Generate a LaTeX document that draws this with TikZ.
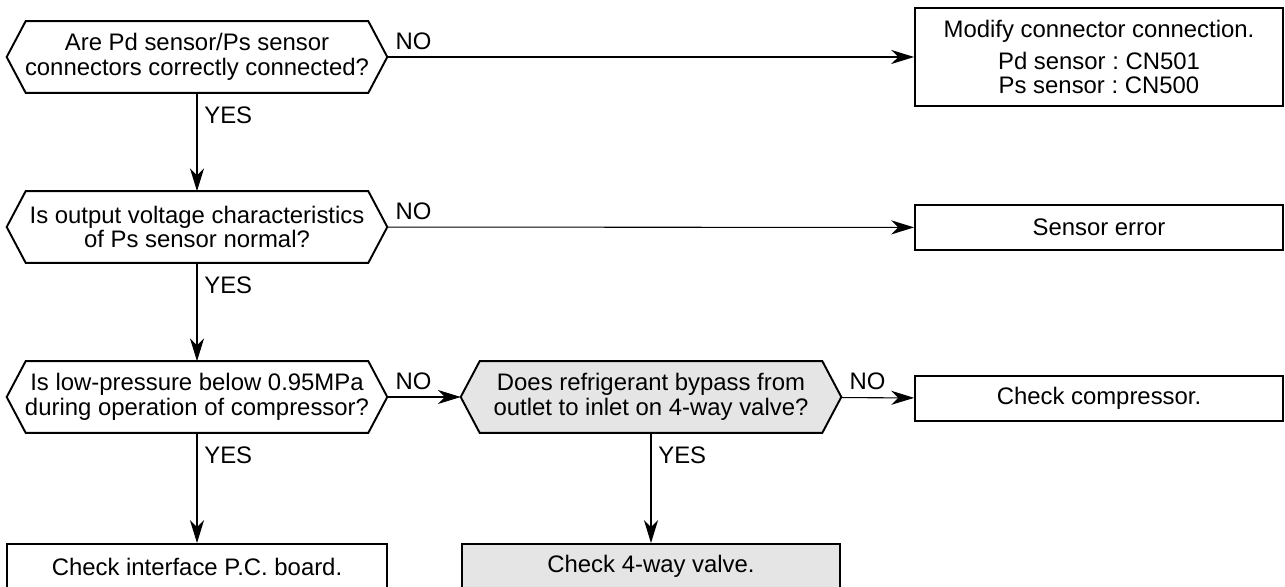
\documentclass[tikz,border=0pt]{standalone}
\usepackage{fontspec}
\setmainfont{Liberation Sans}
\usetikzlibrary{arrows.meta, backgrounds}
\frenchspacing

\begin{document}
\begin{tikzpicture}[
  x=0.02cm, y=-0.02cm,
  font=\fontsize{13.6}{14}\selectfont,
  question/.style={minimum width=7.6cm, minimum height=1.42cm, inner sep=0pt, align=center},
  result/.style={draw, line width=1.1pt, minimum width=7.36cm, minimum height=0.9cm, inner sep=0pt, align=center},
  hexline/.style={line width=1.1pt, line join=miter},
  flow/.style={line width=0.6pt, -{Stealth[length=13pt, width=8pt, inset=4pt]}},
  answer/.style={anchor=west, inner sep=0pt},
]
  \useasboundingbox (0,0) rectangle (1285,587);

  % --- Questions ---
  \node[question] (conn)   at (197,57)  {Are Pd sensor/Ps sensor\\connectors correctly connected?};
  \node[question] (volt)   at (197,227) {Is output voltage characteristics\\of Ps sensor normal?};
  \node[question] (lowp)   at (197,397) {Is low-pressure below 0.95MPa\\during operation of compressor?};
  \node[question] (bypass) at (651,397) {Does refrigerant bypass from\\outlet to inlet on 4-way valve?};

  % hexagon outlines behind the texts
  \begin{scope}[on background layer]
    \foreach \q/\c in {conn/white, volt/white, lowp/white, bypass/black!10}
      \draw[hexline, fill=\c] (\q.west) -- ([xshift=0.38cm]\q.north west)
        -- ([xshift=-0.38cm]\q.north east) -- (\q.east)
        -- ([xshift=-0.38cm]\q.south east) -- ([xshift=0.38cm]\q.south west) -- cycle;
  \end{scope}

  % --- Results ---
  \node[result, minimum height=1.96cm] (modify) at (1099,57)
    {Modify connector connection.\\[4pt]Pd sensor : CN501\\Ps sensor : CN500};
  \node[result] (senserr)    at (1099,227.5) {Sensor error};
  \node[result] (checkcomp)  at (1099,398.5) {Check compressor.};
  \node[result, minimum width=7.6cm] (checkpcb) at (197,566.5) {Check interface P.C. board.};
  \node[result, minimum width=7.56cm, fill=black!10] (checkvalve) at (651,566.5) {Check 4-way valve.};

  % --- Connectors ---
  \draw[flow] (conn) -- (modify);
  \draw[flow] (conn) -- (volt);
  \draw[flow] (volt) -- (senserr);
  \draw[flow] (volt) -- (lowp);
  \draw[flow] (lowp) -- (bypass);
  \draw[flow] (lowp) -- (checkpcb);
  \draw[flow] (bypass) -- (checkcomp);
  \draw[flow] (bypass) -- (checkvalve);

  % --- Answer labels ---
  \foreach \q in {conn, volt, lowp, bypass} {
    \node[answer] (\q-no)  at ([xshift=0.16cm, yshift=0.31cm]\q.east) {NO};
    \node[answer] (\q-yes) at ([xshift=0.14cm, yshift=-0.45cm]\q.south) {YES};
  }
\end{tikzpicture}
\end{document}
